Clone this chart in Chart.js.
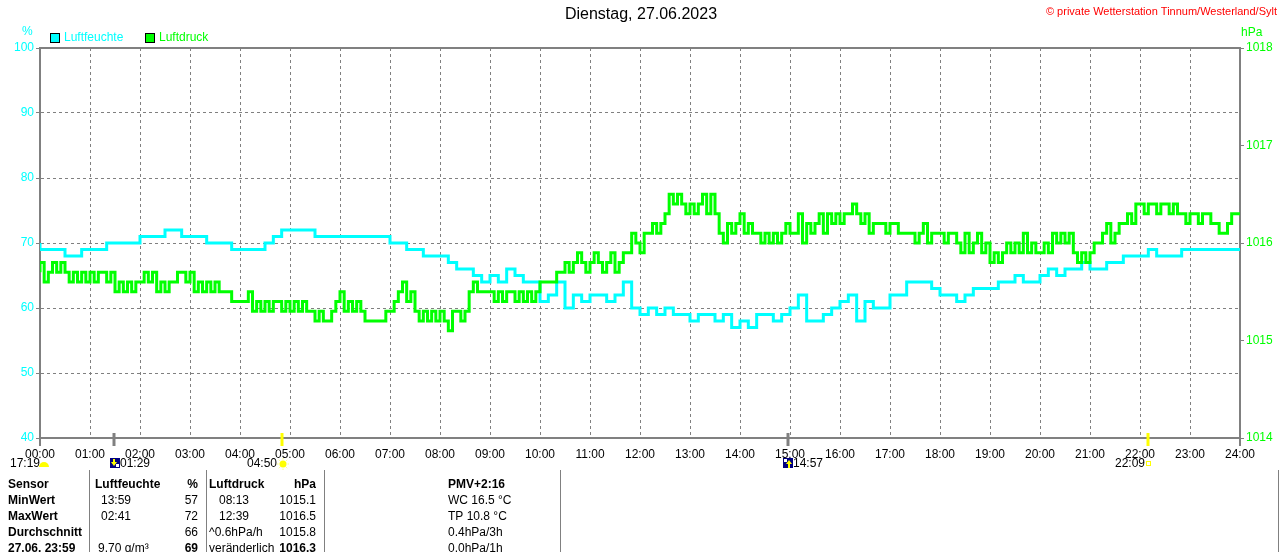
<!DOCTYPE html>
<html>
<head>
<meta charset="utf-8">
<script src="https://cdn.jsdelivr.net/npm/chart.js@4.4.0/dist/chart.umd.min.js"></script>
<style>
html, body { margin: 0; padding: 0; background: #fff; }
#wrap { width: 1280px; height: 552px; }
</style>
</head>
<body>
<div id="wrap"><canvas id="chart" width="1280" height="552"></canvas></div>
<script>
const hourLabels = ["00:00","01:00","02:00","03:00","04:00","05:00","06:00","07:00","08:00","09:00","10:00","11:00",
  "12:00","13:00","14:00","15:00","16:00","17:00","18:00","19:00","20:00","21:00","22:00","23:00","24:00"];

// Luftfeuchte in %, one value every 10 minutes (6 per hour)
const humidity = [
  70,69,69,69,68,68,  69,69,69,70,70,70,  70,71,71,71,72,72,  71,71,71,70,70,70,
  69,69,69,69,70,71,  72,72,72,72,71,71,  71,71,71,71,71,71,  71,70,70,69,69,68,
  68,68,67,66,66,65,  64,65,64,66,65,64,  64,61,62,64,60,62,  61,62,62,61,62,64,
  60,59,60,59,60,59,  59,58,59,59,58,59,  57,58,57,59,59,58,  59,60,62,58,58,59,
  60,61,62,58,61,60,  60,62,62,64,64,64,  63,62,62,61,62,63,  63,63,64,64,65,64,
  64,65,66,65,66,66,  67,66,66,67,67,68,  68,68,69,68,68,68,  69,69,69,69,69,69,
  69
];

// Luftdruck in hPa, one value every 5 minutes (12 per hour)
const pressure = [
  1015.7,1015.8,1015.6,1015.7,1015.8,1015.7,1015.8,1015.7,1015.6,1015.7,1015.6,1015.7,
  1015.6,1015.7,1015.6,1015.7,1015.7,1015.6,1015.7,1015.5,1015.6,1015.5,1015.6,1015.5,
  1015.6,1015.6,1015.7,1015.6,1015.7,1015.5,1015.6,1015.5,1015.6,1015.6,1015.7,1015.7,
  1015.6,1015.7,1015.5,1015.6,1015.5,1015.6,1015.5,1015.6,1015.5,1015.5,1015.5,1015.4,
  1015.4,1015.4,1015.4,1015.5,1015.3,1015.4,1015.3,1015.4,1015.3,1015.4,1015.4,1015.3,
  1015.4,1015.3,1015.4,1015.3,1015.4,1015.3,1015.3,1015.2,1015.3,1015.2,1015.2,1015.3,
  1015.4,1015.5,1015.3,1015.4,1015.3,1015.4,1015.3,1015.2,1015.2,1015.2,1015.2,1015.2,
  1015.3,1015.3,1015.4,1015.5,1015.6,1015.4,1015.5,1015.3,1015.2,1015.3,1015.2,1015.3,
  1015.2,1015.3,1015.2,1015.1,1015.3,1015.3,1015.2,1015.3,1015.5,1015.6,1015.5,1015.5,
  1015.5,1015.5,1015.4,1015.5,1015.4,1015.5,1015.5,1015.4,1015.5,1015.4,1015.5,1015.4,
  1015.5,1015.6,1015.6,1015.6,1015.6,1015.7,1015.7,1015.8,1015.7,1015.8,1015.9,1015.8,
  1015.7,1015.8,1015.9,1015.8,1015.7,1015.8,1015.9,1015.7,1015.8,1015.9,1015.9,1016.1,
  1016.0,1015.9,1016.1,1016.1,1016.2,1016.1,1016.2,1016.3,1016.5,1016.4,1016.5,1016.4,
  1016.3,1016.4,1016.3,1016.4,1016.5,1016.3,1016.5,1016.3,1016.1,1016.0,1016.2,1016.1,
  1016.2,1016.3,1016.1,1016.2,1016.1,1016.1,1016.0,1016.1,1016.0,1016.1,1016.0,1016.1,
  1016.2,1016.1,1016.1,1016.3,1016.0,1016.2,1016.1,1016.2,1016.3,1016.1,1016.3,1016.2,
  1016.3,1016.2,1016.3,1016.3,1016.4,1016.3,1016.2,1016.3,1016.1,1016.2,1016.2,1016.2,
  1016.1,1016.2,1016.2,1016.1,1016.1,1016.1,1016.1,1016.0,1016.1,1016.2,1016.0,1016.1,
  1016.1,1016.1,1016.0,1016.1,1016.1,1016.0,1015.9,1016.1,1015.9,1016.0,1016.1,1015.9,
  1016.0,1015.8,1015.9,1015.8,1015.9,1016.0,1015.9,1016.0,1015.9,1016.1,1015.9,1016.0,
  1015.9,1015.9,1016.0,1015.9,1016.1,1016.0,1016.1,1016.0,1016.1,1015.9,1015.8,1015.9,
  1015.8,1015.9,1016.0,1016.0,1016.1,1016.2,1016.0,1016.1,1016.2,1016.2,1016.3,1016.2,
  1016.4,1016.4,1016.3,1016.4,1016.4,1016.3,1016.4,1016.4,1016.3,1016.4,1016.3,1016.3,
  1016.2,1016.3,1016.3,1016.2,1016.3,1016.3,1016.2,1016.2,1016.1,1016.1,1016.2,1016.3,
  1016.3
];

// sun / moon times below the x axis (hours)
const sunTimes = [4 + 50/60, 22 + 9/60];
const moonTimes = [1 + 29/60, 14 + 57/60];

const tableRows = [
  ["Sensor", "Luftfeuchte", "%", "Luftdruck", "hPa", "PMV+2:16"],
  ["MinWert", "13:59", "57", "08:13", "1015.1", "WC 16.5 °C"],
  ["MaxWert", "02:41", "72", "12:39", "1016.5", "TP 10.8 °C"],
  ["Durchschnitt", "", "66", "^0.6hPa/h", "1015.8", "0.4hPa/3h"],
  ["27.06. 23:59", "9.70 g/m³", "69", "veränderlich", "1016.3", "0.0hPa/1h"]
];

const CYAN = "#00ffff";
const GREEN = "#00ff00";
const GRAY = "#808080";
const FONT = "'Liberation Sans', Arial, sans-serif";

Chart.defaults.font.family = FONT;
Chart.defaults.font.size = 12;
Chart.defaults.color = "#000";

const decor = {
  id: "decor",
  afterDraw(chart) {
    const ctx = chart.ctx;
    const a = chart.chartArea;
    const xs = chart.scales.x;
    ctx.save();

    // frame top + axis ends below
    ctx.strokeStyle = GRAY;
    ctx.lineWidth = 2;
    ctx.beginPath();
    ctx.moveTo(a.left - 1, a.top);
    ctx.lineTo(a.right + 1, a.top);
    ctx.moveTo(a.left, a.bottom);
    ctx.lineTo(a.left, a.bottom + 8);
    ctx.moveTo(a.right, a.bottom);
    ctx.lineTo(a.right, a.bottom + 8);
    ctx.stroke();

    // title and copyright
    ctx.textBaseline = "middle";
    ctx.fillStyle = "#000";
    ctx.font = "16px " + FONT;
    ctx.textAlign = "center";
    ctx.fillText("Dienstag, 27.06.2023", 641, 15);
    ctx.fillStyle = "#ff0000";
    ctx.font = "11px " + FONT;
    ctx.textAlign = "right";
    ctx.fillText("© private Wetterstation Tinnum/Westerland/Sylt", 1277, 12);

    // units
    ctx.font = "12px " + FONT;
    ctx.textAlign = "left";
    ctx.fillStyle = CYAN;
    ctx.fillText("%", 22, 32);
    ctx.fillStyle = GREEN;
    ctx.fillText("hPa", 1241, 33);

    // legend
    chart.data.datasets.forEach((ds, i) => {
      const bx = i === 0 ? 50 : 145;
      ctx.fillStyle = ds.borderColor;
      ctx.fillRect(bx, 33, 10, 10);
      ctx.strokeStyle = "#000";
      ctx.lineWidth = 1;
      ctx.strokeRect(bx + 0.5, 33.5, 9, 9);
      ctx.fillText(ds.label, bx + 14, 38);
    });

    // sun and moon markers
    const y0 = a.bottom - 5, y1 = a.bottom + 8;
    ctx.lineWidth = 3;
    moonTimes.forEach(t => {
      const px = Math.round(xs.getPixelForValue(t));
      ctx.strokeStyle = GRAY;
      ctx.beginPath(); ctx.moveTo(px, y0); ctx.lineTo(px, y1); ctx.stroke();
    });
    sunTimes.forEach(t => {
      const px = Math.round(xs.getPixelForValue(t));
      ctx.strokeStyle = "#ffff00";
      ctx.beginPath(); ctx.moveTo(px, y0); ctx.lineTo(px, y1); ctx.stroke();
    });

    ctx.fillStyle = "#000";
    ctx.font = "12px " + FONT;
    ctx.textAlign = "left";
    ctx.fillText("17:19", 10, 464);
    ctx.fillText("01:29", 120, 464);
    ctx.fillText("14:57", 793, 464);
    ctx.textAlign = "right";
    ctx.fillText("04:50", 277, 464);
    ctx.fillText("22:09", 1145, 464);

    // sunset icon (half sun) at left
    ctx.fillStyle = "#ffff00";
    ctx.beginPath();
    ctx.arc(44, 467, 5, Math.PI, 0);
    ctx.fill();
    // sun icon 04:50
    ctx.beginPath();
    ctx.arc(283, 464, 3.5, 0, Math.PI * 2);
    ctx.fill();
    ctx.strokeStyle = "#ffff80";
    ctx.lineWidth = 1;
    for (let k = 0; k < 8; k++) {
      const ang = k * Math.PI / 4;
      ctx.beginPath();
      ctx.moveTo(283 + Math.cos(ang) * 4.5, 464 + Math.sin(ang) * 4.5);
      ctx.lineTo(283 + Math.cos(ang) * 6, 464 + Math.sin(ang) * 6);
      ctx.stroke();
    }
    // small square 22:09
    ctx.strokeStyle = "#ffff00";
    ctx.strokeRect(1146.5, 461.5, 4, 4);

    // moon icons
    [[110, "down"], [783, "up"]].forEach(([mx, dir]) => {
      ctx.fillStyle = "#000080";
      ctx.fillRect(mx, 458, 10, 10);
      ctx.fillStyle = "#ffffff";
      if (dir === "down") ctx.fillRect(mx + 6, 464, 3, 3);
      else ctx.fillRect(mx + 1, 459, 3, 3);
      ctx.fillStyle = "#ffff00";
      ctx.beginPath();
      if (dir === "down") {
        ctx.fillRect(mx + 3, 459, 2, 4);
        ctx.moveTo(mx + 1, 462); ctx.lineTo(mx + 7, 462); ctx.lineTo(mx + 4, 466);
      } else {
        ctx.fillRect(mx + 5, 463, 2, 5);
        ctx.moveTo(mx + 3, 464); ctx.lineTo(mx + 9, 464); ctx.lineTo(mx + 6, 460);
      }
      ctx.fill();
    });

    // table
    ctx.strokeStyle = GRAY;
    ctx.lineWidth = 1;
    [89, 206, 324, 560, 1278].forEach(lx => {
      ctx.beginPath();
      ctx.moveTo(lx + 0.5, 470);
      ctx.lineTo(lx + 0.5, 552);
      ctx.stroke();
    });

    const rowY = [485, 501, 517, 533, 549];
    ctx.fillStyle = "#000";
    tableRows.forEach((row, r) => {
      const y = rowY[r];
      const bold = c => r === 0 || c === 0 || (r === 4 && (c === 2 || c === 4));
      const cell = (c, x, align) => {
        ctx.font = (bold(c) ? "bold " : "") + "12px " + FONT;
        ctx.textAlign = align;
        ctx.fillText(row[c], x, y);
      };
      cell(0, 8, "left");
      cell(1, r === 0 ? 95 : (r === 4 ? 98 : 101), "left");
      cell(2, 198, "right");
      cell(3, (r === 1 || r === 2) ? 219 : 209, "left");
      cell(4, 316, "right");
      cell(5, 448, "left");
    });

    ctx.restore();
  }
};

new Chart(document.getElementById("chart").getContext("2d"), {
  type: "line",
  data: {
    datasets: [
      {
        label: "Luftfeuchte",
        data: humidity.map((v, i) => ({ x: i / 6, y: v })),
        yAxisID: "y",
        borderColor: CYAN,
        backgroundColor: CYAN,
        borderWidth: 3,
        pointRadius: 0,
        stepped: "after",
        order: 1
      },
      {
        label: "Luftdruck",
        data: pressure.map((v, i) => ({ x: i / 12, y: v })),
        yAxisID: "y1",
        borderColor: GREEN,
        backgroundColor: GREEN,
        borderWidth: 3,
        pointRadius: 0,
        stepped: "after",
        order: 0
      }
    ]
  },
  options: {
    responsive: false,
    devicePixelRatio: 1,
    animation: false,
    layout: { padding: { top: 48, left: 0, right: 0, bottom: 0 } },
    plugins: {
      legend: { display: false },
      title: { display: false },
      tooltip: { enabled: false }
    },
    scales: {
      x: {
        type: "linear",
        min: 0,
        max: 24,
        afterFit: s => { s.height = 114; },
        afterBuildTicks: s => { s.ticks = hourLabels.map((l, i) => ({ value: i })); },
        ticks: {
          autoSkip: false,
          maxRotation: 0,
          padding: 9,
          color: "#000",
          font: { size: 12 },
          callback: v => hourLabels[v]
        },
        grid: { color: GRAY, lineWidth: 1, drawTicks: false },
        border: { display: true, color: GRAY, width: 2, dash: [3, 3] }
      },
      y: {
        position: "left",
        min: 40,
        max: 100,
        afterFit: s => { s.width = 40; },
        ticks: { stepSize: 10, color: CYAN, padding: 2, font: { size: 12 }, callback: v => String(v) },
        grid: { color: GRAY, lineWidth: 1, tickLength: 4 },
        border: { display: true, color: GRAY, width: 2, dash: [3, 3] }
      },
      y1: {
        position: "right",
        min: 1014,
        max: 1018,
        afterFit: s => { s.width = 40; },
        ticks: { stepSize: 1, color: GREEN, padding: 2, font: { size: 12 }, callback: v => String(v) },
        grid: { drawOnChartArea: false, color: GRAY, tickLength: 4 },
        border: { display: true, color: GRAY, width: 2 }
      }
    }
  },
  plugins: [decor]
});
</script>
</body>
</html>
